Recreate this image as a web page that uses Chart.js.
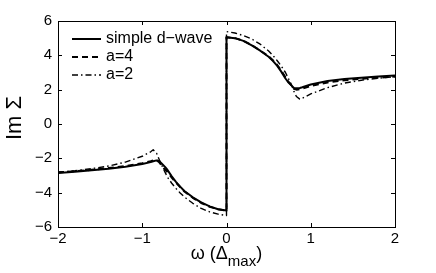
<!DOCTYPE html>
<html><head><meta charset="utf-8">
<script src="https://cdn.jsdelivr.net/npm/chart.js@4/dist/chart.umd.min.js"></script>
<style>html,body{margin:0;padding:0;background:#fff}#w{width:436px;height:273px;position:relative}</style>
</head><body><div id="w"><canvas id="c"></canvas></div>
<script>
const omega = [-2,-1.8,-1.6,-1.4,-1.2,-1.0,-0.9,-0.87,-0.83,-0.8,-0.77,-0.73,-0.7,-0.65,-0.6,-0.55,-0.5,-0.4,-0.3,-0.2,-0.1,0,
               0,0.1,0.2,0.3,0.4,0.5,0.55,0.6,0.65,0.7,0.73,0.77,0.8,0.83,0.87,0.9,1.0,1.2,1.4,1.6,1.8,2.0];
const simpleDWave = [-2.85,-2.78,-2.7,-2.61,-2.49,-2.33,-2.22,-2.17,-2.12,-2.15,-2.3,-2.5,-2.68,-3.05,-3.37,-3.65,-3.9,-4.27,-4.57,-4.8,-4.97,-5.04,
               5.05,5.0,4.84,4.58,4.27,3.92,3.68,3.4,3.05,2.65,2.45,2.25,2.1,2.08,2.1,2.14,2.3,2.5,2.62,2.7,2.77,2.82];
const a4 = [-2.82,-2.75,-2.67,-2.57,-2.45,-2.28,-2.17,-2.12,-2.1,-2.22,-2.42,-2.65,-2.8,-3.12,-3.42,-3.68,-3.93,-4.3,-4.6,-4.82,-4.97,-5.05,
               5.05,5.0,4.85,4.6,4.28,3.94,3.72,3.45,3.12,2.72,2.5,2.25,2.05,2.0,2.02,2.06,2.22,2.42,2.55,2.63,2.7,2.76];
const a2 = [-2.8,-2.72,-2.6,-2.45,-2.22,-1.88,-1.62,-1.5,-1.7,-2.05,-2.4,-2.8,-3.1,-3.45,-3.75,-4.02,-4.25,-4.62,-4.92,-5.12,-5.25,-5.33,
               5.38,5.3,5.15,4.95,4.65,4.25,4.0,3.7,3.38,3.0,2.7,2.3,1.9,1.6,1.45,1.5,1.75,2.12,2.38,2.55,2.67,2.75];
const xTicks = [-2,-1,0,1,2];
const yTicks = [-6,-4,-2,0,2,4,6];
const seriesNames = ['simple d\u2212wave','a=4','a=2'];
const xTitle = ['\u03c9 (\u0394', 'max', ')'];
const yTitle = 'Im \u03a3';

const FONT = '"Liberation Sans", Arial, sans-serif';
const pts = ys => omega.map((x,i)=>({x:x,y:ys[i]}));
const styles = [
  {dash:[], width:2},
  {dash:[6,4], width:2},
  {dash:[6,3,1.5,3], width:1.4}
];
const seriesData = [simpleDWave, a4, a2];

const frame = {
  id:'frame',
  beforeDatasetsDraw(chart){
    const {ctx, chartArea:a, scales:{x, y}} = chart;
    ctx.save();
    ctx.strokeStyle = '#000'; ctx.lineWidth = 1;
    ctx.strokeRect(a.left+0.5, a.top+0.5, a.right-a.left, a.bottom-a.top);
    const L = 4;
    ctx.beginPath();
    xTicks.forEach(v=>{
      const px = Math.round(x.getPixelForValue(v))+0.5;
      ctx.moveTo(px, a.bottom); ctx.lineTo(px, a.bottom-L);
      ctx.moveTo(px, a.top); ctx.lineTo(px, a.top+L);
    });
    yTicks.forEach(v=>{
      const py = Math.round(y.getPixelForValue(v))+0.5;
      ctx.moveTo(a.left, py); ctx.lineTo(a.left+L, py);
      ctx.moveTo(a.right, py); ctx.lineTo(a.right-L, py);
    });
    ctx.stroke();
    ctx.restore();
  },
  afterDatasetsDraw(chart){
    const {ctx, chartArea:a} = chart;
    ctx.save();
    // legend
    const lx0 = a.left+14, lx1 = a.left+43, ty0 = a.top+18, dy = 18;
    chart.data.datasets.forEach((ds,i)=>{
      const yy = ty0 + i*dy;
      ctx.strokeStyle = '#000';
      ctx.lineWidth = ds.borderWidth;
      ctx.setLineDash(ds.borderDash);
      ctx.beginPath(); ctx.moveTo(lx0, yy); ctx.lineTo(lx1, yy); ctx.stroke();
      ctx.setLineDash([]);
      ctx.fillStyle = '#000';
      ctx.font = '16px ' + FONT;
      ctx.textBaseline = 'middle'; ctx.textAlign = 'left';
      ctx.fillText(ds.label, lx1+5, yy);
    });
    // x title with subscript
    ctx.font = '18px ' + FONT;
    ctx.textBaseline = 'alphabetic';
    const w1 = ctx.measureText(xTitle[0]).width;
    ctx.font = '15px ' + FONT;
    const w2 = ctx.measureText(xTitle[1]).width;
    ctx.font = '18px ' + FONT;
    const w3 = ctx.measureText(xTitle[2]).width;
    const cx = (a.left + a.right)/2;
    let sx = cx - (w1+w2+w3)/2;
    const base = 259;
    ctx.fillText(xTitle[0], sx, base);
    ctx.font = '15px ' + FONT;
    ctx.fillText(xTitle[1], sx+w1, base+7);
    ctx.font = '18px ' + FONT;
    ctx.fillText(xTitle[2], sx+w1+w2, base);
    // y title
    ctx.translate(15, 118);
    ctx.rotate(-Math.PI/2);
    ctx.font = '22px ' + FONT;
    ctx.textAlign = 'center'; ctx.textBaseline = 'middle';
    ctx.fillText(yTitle, 0, 0);
    ctx.restore();
  }
};

new Chart(document.getElementById('c'), {
  type:'line',
  data:{
    datasets: seriesData.map((d,i)=>({
      label: seriesNames[i],
      data: pts(d),
      borderColor:'#000',
      backgroundColor:'#000',
      borderWidth: styles[i].width,
      borderDash: styles[i].dash,
      borderJoinStyle:'round',
      pointRadius:0,
      tension:0,
      fill:false
    }))
  },
  options:{
    responsive:true, maintainAspectRatio:false, animation:false,
    layout:{padding:{top:21, right:41, left:0, bottom:0}},
    plugins:{legend:{display:false}, tooltip:{enabled:false}},
    scales:{
      x:{type:'linear', min:-2, max:2,
         afterBuildTicks(s){ s.ticks = xTicks.map(v=>({value:v})); },
         afterFit(s){ s.height = 46; },
         grid:{display:false, drawTicks:false}, border:{display:false},
         ticks:{color:'#000', padding:3, font:{size:15, family:FONT},
                callback:v=>String(v).replace('-','\u2212')}},
      y:{type:'linear', min:-6, max:6,
         afterBuildTicks(s){ s.ticks = yTicks.map(v=>({value:v})); },
         afterFit(s){ s.width = 58; },
         grid:{display:false, drawTicks:false}, border:{display:false},
         ticks:{color:'#000', padding:6, font:{size:15, family:FONT},
                callback:v=>String(v).replace('-','\u2212')}}
    }
  },
  plugins:[frame]
});
</script></body></html>
